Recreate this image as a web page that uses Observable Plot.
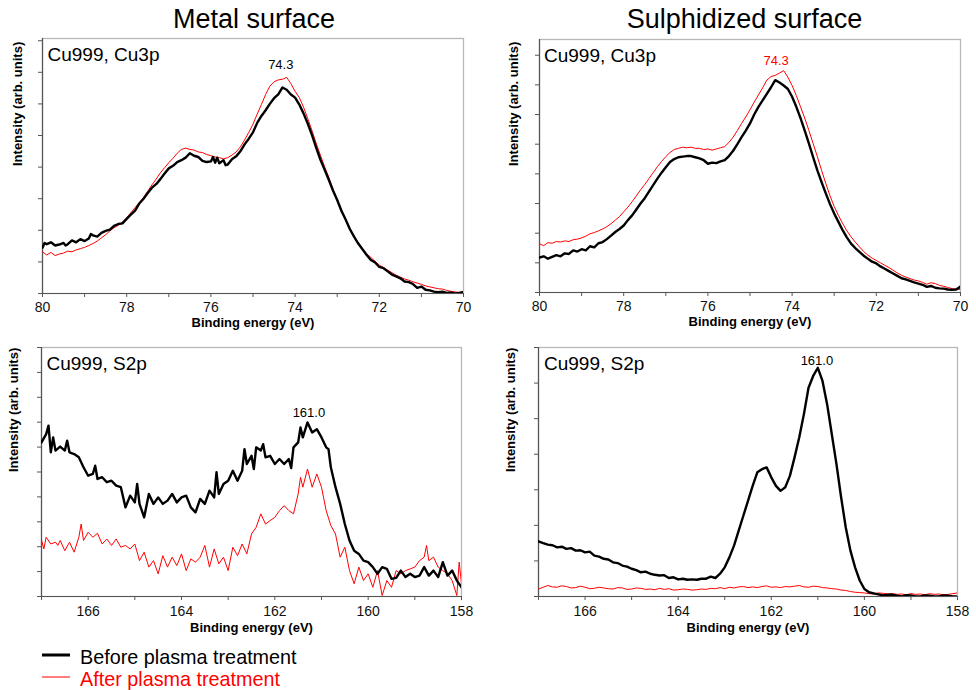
<!DOCTYPE html>
<html><head><meta charset="utf-8">
<script src="https://cdn.jsdelivr.net/npm/d3@7"></script>
<script src="https://cdn.jsdelivr.net/npm/@observablehq/plot@0.6"></script>
<style>
body{margin:0;background:#fff;font-family:"Liberation Sans",Arial,sans-serif}
#root{position:relative;width:976px;height:690px;overflow:hidden}
#root > svg{position:absolute}
</style>
</head><body><div id="root"></div>
<script>
// ---- Data (binding energy eV, intensity in arbitrary tick units) ----
const columnTitles = ["Metal surface", "Sulphidized surface"];
const seriesNames = ["Before plasma treatment", "After plasma treatment"];
const panelLabels = ["Cu999, Cu3p", "Cu999, Cu3p", "Cu999, S2p", "Cu999, S2p"];
const peakLabels = ["74.3", "74.3", "161.0", "161.0"];
const cu3pTicks = [80, 78, 76, 74, 72, 70];
const cu3pMinor = [79, 77, 75, 73, 71];
const s2pTicks = [166, 164, 162, 160, 158];
const s2pMinor = [167, 165, 163, 161, 159];

const cu3pMetalBefore = [[80.0,1.45],[79.95,1.60],[79.9,1.56],[79.8,1.62],[79.7,1.52],[79.6,1.55],[79.5,1.60],[79.45,1.52],[79.4,1.56],[79.3,1.68],[79.2,1.62],[79.1,1.72],[79.0,1.66],[78.9,1.74],[78.85,1.88],[78.8,1.84],[78.7,1.80],[78.6,1.92],[78.5,1.98],[78.4,2.02],[78.3,2.14],[78.2,2.20],[78.1,2.22],[78.0,2.36],[77.9,2.50],[77.8,2.62],[77.7,2.85],[77.6,3.00],[77.5,3.18],[77.4,3.35],[77.3,3.46],[77.2,3.62],[77.1,3.80],[77.0,3.96],[76.9,4.04],[76.8,4.16],[76.7,4.22],[76.6,4.30],[76.5,4.44],[76.4,4.36],[76.3,4.32],[76.2,4.20],[76.1,4.16],[76.0,4.18],[75.95,4.32],[75.9,4.14],[75.85,4.30],[75.8,4.12],[75.7,4.22],[75.65,4.06],[75.6,4.08],[75.5,4.25],[75.4,4.34],[75.3,4.50],[75.2,4.72],[75.1,4.90],[75.0,5.10],[74.9,5.40],[74.8,5.62],[74.7,5.80],[74.6,6.00],[74.5,6.18],[74.4,6.30],[74.3,6.52],[74.2,6.45],[74.1,6.30],[74.0,6.20],[73.9,5.98],[73.8,5.70],[73.7,5.38],[73.6,5.02],[73.5,4.62],[73.4,4.24],[73.3,3.92],[73.2,3.60],[73.1,3.26],[73.0,2.96],[72.9,2.62],[72.8,2.34],[72.7,2.04],[72.6,1.80],[72.5,1.58],[72.4,1.40],[72.3,1.22],[72.2,1.06],[72.1,0.98],[72.0,0.84],[71.9,0.80],[71.8,0.70],[71.7,0.60],[71.6,0.54],[71.5,0.48],[71.4,0.38],[71.3,0.36],[71.2,0.30],[71.1,0.18],[71.0,0.22],[70.9,0.12],[70.8,0.10],[70.7,0.06],[70.6,0.04],[70.5,0.06],[70.4,0.02],[70.3,0.03],[70.2,0.00],[70.1,0.02],[70.0,0.04]];
const cu3pMetalAfter = [[80.0,1.32],[79.9,1.22],[79.8,1.30],[79.7,1.20],[79.6,1.25],[79.5,1.28],[79.4,1.34],[79.3,1.32],[79.2,1.38],[79.1,1.42],[79.0,1.46],[78.9,1.52],[78.8,1.58],[78.7,1.66],[78.6,1.76],[78.5,1.86],[78.4,1.98],[78.3,2.08],[78.2,2.16],[78.1,2.26],[78.0,2.40],[77.9,2.56],[77.8,2.72],[77.7,2.88],[77.6,3.04],[77.5,3.24],[77.4,3.44],[77.3,3.62],[77.2,3.82],[77.1,3.98],[77.0,4.14],[76.9,4.28],[76.8,4.44],[76.7,4.56],[76.6,4.60],[76.5,4.56],[76.4,4.54],[76.3,4.48],[76.2,4.46],[76.1,4.40],[76.0,4.36],[75.9,4.32],[75.8,4.30],[75.7,4.26],[75.6,4.30],[75.5,4.38],[75.4,4.48],[75.3,4.64],[75.2,4.86],[75.1,5.10],[75.0,5.36],[74.9,5.68],[74.8,5.98],[74.7,6.30],[74.6,6.56],[74.5,6.70],[74.4,6.76],[74.3,6.78],[74.2,6.84],[74.1,6.64],[74.0,6.40],[73.9,6.20],[73.8,5.90],[73.7,5.54],[73.6,5.16],[73.5,4.76],[73.4,4.38],[73.3,4.02],[73.2,3.68],[73.1,3.30],[73.0,2.96],[72.9,2.64],[72.8,2.34],[72.7,2.06],[72.6,1.80],[72.5,1.60],[72.4,1.42],[72.3,1.26],[72.2,1.14],[72.1,1.02],[72.0,0.90],[71.9,0.82],[71.8,0.74],[71.7,0.66],[71.6,0.58],[71.5,0.52],[71.4,0.46],[71.3,0.42],[71.2,0.37],[71.1,0.33],[71.0,0.29],[70.9,0.24],[70.8,0.21],[70.7,0.18],[70.6,0.15],[70.5,0.14],[70.4,0.10],[70.3,0.07],[70.2,0.05],[70.1,0.03],[70.0,0.07]];
const cu3pSulphBefore = [[80.0,1.18],[79.9,1.22],[79.8,1.14],[79.7,1.20],[79.6,1.26],[79.5,1.22],[79.4,1.32],[79.3,1.30],[79.2,1.42],[79.1,1.38],[79.0,1.46],[78.9,1.42],[78.8,1.56],[78.7,1.52],[78.6,1.66],[78.5,1.70],[78.4,1.80],[78.3,1.92],[78.2,2.04],[78.1,2.14],[78.0,2.26],[77.9,2.44],[77.8,2.60],[77.7,2.80],[77.6,3.00],[77.5,3.18],[77.4,3.40],[77.3,3.62],[77.2,3.84],[77.1,4.04],[77.0,4.22],[76.9,4.40],[76.8,4.50],[76.7,4.56],[76.6,4.58],[76.5,4.60],[76.4,4.60],[76.3,4.56],[76.2,4.52],[76.1,4.46],[76.0,4.34],[75.9,4.38],[75.8,4.36],[75.7,4.42],[75.6,4.46],[75.5,4.60],[75.4,4.78],[75.3,5.00],[75.2,5.24],[75.1,5.46],[75.0,5.70],[74.9,6.00],[74.8,6.26],[74.7,6.48],[74.6,6.70],[74.5,6.92],[74.4,7.16],[74.3,7.08],[74.2,6.98],[74.1,6.86],[74.0,6.60],[73.9,6.26],[73.8,5.88],[73.7,5.46],[73.6,5.02],[73.5,4.56],[73.4,4.12],[73.3,3.72],[73.2,3.34],[73.1,2.98],[73.0,2.66],[72.9,2.38],[72.8,2.10],[72.7,1.86],[72.6,1.65],[72.5,1.50],[72.4,1.37],[72.3,1.24],[72.2,1.14],[72.1,1.04],[72.0,0.98],[71.9,0.88],[71.8,0.80],[71.7,0.72],[71.6,0.64],[71.5,0.56],[71.4,0.48],[71.3,0.44],[71.2,0.39],[71.1,0.34],[71.0,0.30],[70.9,0.26],[70.8,0.19],[70.7,0.22],[70.6,0.16],[70.5,0.14],[70.4,0.13],[70.3,0.10],[70.2,0.09],[70.1,0.10],[70.0,0.20]];
const cu3pSulphAfter = [[80.0,1.64],[79.9,1.58],[79.8,1.68],[79.7,1.66],[79.6,1.72],[79.5,1.70],[79.4,1.74],[79.3,1.72],[79.2,1.78],[79.1,1.80],[79.0,1.84],[78.9,1.90],[78.8,1.98],[78.7,2.02],[78.6,2.08],[78.5,2.14],[78.4,2.22],[78.3,2.32],[78.2,2.44],[78.1,2.56],[78.0,2.72],[77.9,2.88],[77.8,3.06],[77.7,3.26],[77.6,3.46],[77.5,3.64],[77.4,3.84],[77.3,4.04],[77.2,4.24],[77.1,4.42],[77.0,4.58],[76.9,4.72],[76.8,4.82],[76.7,4.86],[76.6,4.90],[76.5,4.88],[76.4,4.90],[76.3,4.86],[76.2,4.86],[76.1,4.82],[76.0,4.84],[75.9,4.80],[75.8,4.84],[75.7,4.88],[75.6,4.92],[75.5,5.06],[75.4,5.24],[75.3,5.46],[75.2,5.70],[75.1,5.92],[75.0,6.16],[74.9,6.42],[74.8,6.66],[74.7,6.90],[74.6,7.16],[74.5,7.28],[74.4,7.32],[74.3,7.40],[74.2,7.48],[74.1,7.26],[74.0,6.98],[73.9,6.64],[73.8,6.26],[73.7,5.88],[73.6,5.46],[73.5,5.02],[73.4,4.58],[73.3,4.12],[73.2,3.68],[73.1,3.26],[73.0,2.90],[72.9,2.60],[72.8,2.33],[72.7,2.08],[72.6,1.88],[72.5,1.70],[72.4,1.54],[72.3,1.38],[72.2,1.26],[72.1,1.16],[72.0,1.08],[71.9,1.00],[71.8,0.92],[71.7,0.84],[71.6,0.75],[71.5,0.66],[71.4,0.58],[71.3,0.52],[71.2,0.47],[71.1,0.42],[71.0,0.39],[70.9,0.34],[70.8,0.28],[70.7,0.33],[70.6,0.30],[70.5,0.24],[70.4,0.21],[70.3,0.17],[70.2,0.13],[70.1,0.12],[70.0,0.10]];
const s2pMetalBefore = [[167.0,6.19],[166.9,6.52],[166.85,6.86],[166.8,5.79],[166.75,6.39],[166.7,5.86],[166.6,6.02],[166.5,5.86],[166.45,6.26],[166.4,5.79],[166.3,5.72],[166.2,5.59],[166.1,5.19],[166.0,4.85],[165.9,4.92],[165.85,5.25],[165.8,4.72],[165.7,4.79],[165.6,4.59],[165.5,4.65],[165.4,4.45],[165.3,4.39],[165.2,3.58],[165.1,4.05],[165.0,3.78],[164.95,4.52],[164.9,3.72],[164.8,3.18],[164.7,4.12],[164.6,3.72],[164.5,3.98],[164.4,3.72],[164.3,3.85],[164.2,4.12],[164.1,3.78],[164.0,3.98],[163.9,4.05],[163.8,3.58],[163.7,3.38],[163.6,3.92],[163.5,3.72],[163.4,4.25],[163.3,3.98],[163.25,4.99],[163.2,4.12],[163.1,4.52],[163.0,4.65],[162.9,5.05],[162.8,4.65],[162.7,5.05],[162.65,5.92],[162.6,5.32],[162.5,5.65],[162.45,5.12],[162.4,5.99],[162.3,5.86],[162.25,6.12],[162.2,5.59],[162.1,5.65],[162.0,5.32],[161.9,5.52],[161.8,5.32],[161.7,5.52],[161.65,5.16],[161.6,5.99],[161.5,6.19],[161.45,6.79],[161.4,6.39],[161.3,6.99],[161.2,6.59],[161.1,6.72],[161.0,6.39],[160.9,5.99],[160.85,5.92],[160.8,5.19],[160.7,4.39],[160.6,3.72],[160.5,2.91],[160.4,2.25],[160.3,1.84],[160.2,1.71],[160.1,1.44],[160.0,1.38],[159.9,1.18],[159.8,0.91],[159.7,1.18],[159.6,1.11],[159.5,0.71],[159.4,0.75],[159.3,1.04],[159.2,0.78],[159.1,0.91],[159.0,0.78],[158.9,0.84],[158.8,1.18],[158.7,0.84],[158.6,1.04],[158.5,0.78],[158.4,1.38],[158.3,0.84],[158.2,1.04],[158.1,0.64],[158.0,0.37]];
const s2pMetalAfter = [[167.0,2.27],[166.95,1.91],[166.9,2.38],[166.8,2.11],[166.7,2.18],[166.65,2.05],[166.6,2.25],[166.5,1.84],[166.4,2.18],[166.3,1.78],[166.2,2.38],[166.15,2.91],[166.1,2.25],[166.0,2.58],[165.9,2.38],[165.8,2.54],[165.7,2.11],[165.6,2.31],[165.5,2.05],[165.4,2.31],[165.3,1.98],[165.2,2.05],[165.1,1.91],[165.0,2.11],[164.9,1.44],[164.8,1.78],[164.7,1.18],[164.6,1.44],[164.5,0.91],[164.4,1.64],[164.3,1.18],[164.2,1.58],[164.1,1.24],[164.0,1.71],[163.9,1.04],[163.8,1.51],[163.7,1.38],[163.6,1.58],[163.5,2.05],[163.4,1.18],[163.3,1.91],[163.2,1.31],[163.1,1.58],[163.0,1.04],[162.9,1.98],[162.8,1.64],[162.7,2.11],[162.6,1.71],[162.5,2.51],[162.4,2.78],[162.3,3.32],[162.2,2.91],[162.1,3.05],[162.0,3.18],[161.9,3.45],[161.8,3.65],[161.7,3.45],[161.6,3.32],[161.5,4.12],[161.45,4.79],[161.4,4.39],[161.3,5.12],[161.2,4.39],[161.1,4.92],[161.0,4.39],[160.9,3.45],[160.8,2.85],[160.7,2.51],[160.6,1.58],[160.5,1.98],[160.4,1.04],[160.3,0.51],[160.2,1.18],[160.1,0.64],[160.0,0.91],[159.9,0.37],[159.8,1.04],[159.7,0.04],[159.6,0.64],[159.5,0.37],[159.4,1.04],[159.3,0.91],[159.2,1.04],[159.1,1.11],[159.0,1.18],[158.9,1.44],[158.8,1.58],[158.75,2.05],[158.7,1.44],[158.6,1.58],[158.5,1.18],[158.4,1.04],[158.3,0.91],[158.2,0.64],[158.1,0.04],[158.05,1.38],[158.0,0.51]];
const s2pSulphBefore = [[167.0,1.55],[166.9,1.50],[166.8,1.46],[166.7,1.44],[166.6,1.38],[166.5,1.40],[166.4,1.34],[166.3,1.36],[166.2,1.29],[166.1,1.30],[166.0,1.24],[165.9,1.26],[165.8,1.15],[165.7,1.12],[165.6,1.06],[165.5,1.04],[165.4,0.96],[165.3,0.94],[165.2,0.87],[165.1,0.84],[165.0,0.78],[164.9,0.74],[164.8,0.68],[164.7,0.70],[164.6,0.64],[164.5,0.61],[164.4,0.59],[164.3,0.60],[164.2,0.52],[164.1,0.54],[164.0,0.48],[163.9,0.50],[163.8,0.47],[163.7,0.48],[163.6,0.47],[163.5,0.50],[163.4,0.50],[163.3,0.56],[163.2,0.52],[163.1,0.64],[163.0,0.82],[162.9,1.10],[162.8,1.43],[162.7,1.85],[162.6,2.27],[162.5,2.69],[162.4,3.11],[162.3,3.49],[162.2,3.58],[162.1,3.63],[162.0,3.35],[161.9,3.11],[161.8,2.97],[161.7,3.07],[161.6,3.39],[161.5,3.91],[161.4,4.47],[161.3,5.12],[161.2,5.87],[161.1,6.20],[161.0,6.43],[160.9,6.06],[160.8,5.40],[160.7,4.56],[160.6,3.72],[160.5,2.79],[160.4,1.94],[160.3,1.29],[160.2,0.82],[160.1,0.45],[160.0,0.21],[159.9,0.12],[159.8,0.09],[159.7,0.06],[159.6,0.03],[159.5,0.05],[159.4,0.05],[159.3,0.02],[159.2,0.00],[159.1,0.04],[159.0,0.03],[158.9,0.00],[158.8,0.00],[158.7,0.03],[158.6,0.02],[158.5,0.00],[158.4,0.00],[158.3,0.03],[158.2,0.02],[158.1,0.00],[158.0,0.00]];
const s2pSulphAfter = [[167.0,0.21],[166.9,0.26],[166.8,0.31],[166.7,0.27],[166.6,0.26],[166.5,0.30],[166.4,0.28],[166.3,0.24],[166.2,0.25],[166.1,0.29],[166.0,0.26],[165.9,0.22],[165.8,0.23],[165.7,0.26],[165.6,0.24],[165.5,0.22],[165.4,0.21],[165.3,0.25],[165.2,0.24],[165.1,0.20],[165.0,0.21],[164.9,0.24],[164.8,0.23],[164.7,0.20],[164.6,0.21],[164.5,0.19],[164.4,0.23],[164.3,0.20],[164.2,0.22],[164.1,0.18],[164.0,0.19],[163.9,0.21],[163.8,0.20],[163.7,0.18],[163.6,0.19],[163.5,0.21],[163.4,0.20],[163.3,0.23],[163.2,0.22],[163.1,0.25],[163.0,0.22],[162.9,0.26],[162.8,0.24],[162.7,0.27],[162.6,0.28],[162.5,0.25],[162.4,0.27],[162.3,0.25],[162.2,0.28],[162.1,0.30],[162.0,0.26],[161.9,0.27],[161.8,0.25],[161.7,0.28],[161.6,0.27],[161.5,0.29],[161.4,0.31],[161.3,0.27],[161.2,0.26],[161.1,0.29],[161.0,0.28],[160.9,0.25],[160.8,0.24],[160.7,0.22],[160.6,0.21],[160.5,0.18],[160.4,0.17],[160.3,0.14],[160.2,0.12],[160.1,0.11],[160.0,0.10],[159.9,0.08],[159.8,0.07],[159.7,0.10],[159.6,0.09],[159.5,0.07],[159.4,0.08],[159.3,0.06],[159.2,0.07],[159.1,0.05],[159.0,0.08],[158.9,0.06],[158.8,0.07],[158.7,0.05],[158.6,0.08],[158.5,0.06],[158.4,0.07],[158.3,0.05],[158.2,0.06],[158.1,0.08],[158.0,0.10]];
const peakPositions = [[74.34, 7.09], [74.38, 7.68], [161.27, 7.19], [161.02, 6.52]];

// ---- Layout ----
const FONT = "'Liberation Sans', Arial, sans-serif";
const RED = "#ff0000";
const root = document.getElementById("root");

function panel(o) {
  const E = d => d[0], I = d => d[1];
  const chart = Plot.plot({
    width: o.width, height: o.height,
    marginLeft: o.mL, marginRight: o.mR, marginTop: o.mT, marginBottom: o.mB,
    style: {fontFamily: FONT, fontSize: "14px", background: "transparent", color: "#000", overflow: "visible"},
    x: {domain: o.xDomain},
    y: {domain: [0, o.yMax]},
    marks: [
      Plot.frame({stroke: "#b8b8b8", strokeWidth: 1.3}),
      Plot.axisX(o.xMajor, {tickSize: 4, tickPadding: o.tickPad, tickFormat: d => String(d), label: null, stroke: "#555", fill: "#111", fontSize: 14, fontFamily: FONT}),
      Plot.axisX(o.xMinor, {tickSize: 4, tickFormat: () => "", label: null, stroke: "#555"}),
      Plot.axisY(d3.range(0, o.yTickCount + 1), {tickSize: 4, tickFormat: () => "", label: null, stroke: "#555"}),
      Plot.ruleX([o.xDomain[0]], {stroke: "#555", strokeWidth: 1.2}),
      Plot.ruleY([0], {stroke: "#555", strokeWidth: 1.2}),
      Plot.line(o.after, {x: E, y: I, stroke: RED, strokeWidth: 1, clip: true}),
      Plot.line(o.before, {x: E, y: I, stroke: "#000", strokeWidth: 2.4, strokeLinejoin: "round", clip: true}),
      Plot.text([o.label], {frameAnchor: "top-left", dx: o.labelDx, dy: o.labelDy, lineAnchor: "bottom", textAnchor: "start", fontSize: 19, fontFamily: FONT, fill: "#000"}),
      Plot.text([o.peak], {x: d => d[0], y: d => d[1], text: () => o.peakText, lineAnchor: "bottom", fontSize: 13, fontFamily: FONT, fill: o.peakColor}),
      Plot.text(["Binding energy (eV)"], {frameAnchor: "bottom", dy: o.xLabelDy, fontWeight: "bold", fontSize: 13, fontFamily: FONT, fill: "#000"}),
      Plot.text(["Intensity (arb. units)"], {frameAnchor: "left", dx: o.yLabelDx, rotate: -90, fontWeight: "bold", fontSize: 13, fontFamily: FONT, fill: "#000"})
    ]
  });
  chart.style.left = o.left + "px";
  chart.style.top = o.top + "px";
  root.appendChild(chart);
}

panel({left: 0, top: 0, width: 488, height: 340, mL: 42, mR: 25, mT: 38, mB: 47,
  xDomain: [80, 70], xMajor: cu3pTicks, xMinor: cu3pMinor, yMax: 8.07, yTickCount: 8, tickPad: 5,
  before: cu3pMetalBefore, after: cu3pMetalAfter, label: panelLabels[0], labelDx: 5, labelDy: 22,
  peak: peakPositions[0], peakText: peakLabels[0], peakColor: "#000", xLabelDy: 33, yLabelDx: -25});
panel({left: 488, top: 0, width: 488, height: 340, mL: 51, mR: 16, mT: 39, mB: 48,
  xDomain: [80, 70], xMajor: cu3pTicks, xMinor: cu3pMinor, yMax: 8.53, yTickCount: 8, tickPad: 5,
  before: cu3pSulphBefore, after: cu3pSulphAfter, label: panelLabels[1], labelDx: 4.5, labelDy: 22,
  peak: peakPositions[1], peakText: peakLabels[1], peakColor: RED, xLabelDy: 33, yLabelDx: -26});
panel({left: 0, top: 340, width: 488, height: 305, mL: 41, mR: 27, mT: 7, mB: 49,
  xDomain: [167, 158], xMajor: s2pTicks, xMinor: s2pMinor, yMax: 10, yTickCount: 10, tickPad: 6,
  before: s2pMetalBefore, after: s2pMetalAfter, label: panelLabels[2], labelDx: 5, labelDy: 22.5,
  peak: peakPositions[2], peakText: peakLabels[2], peakColor: "#000", xLabelDy: 35, yLabelDx: -28});
panel({left: 488, top: 340, width: 488, height: 305, mL: 50, mR: 19, mT: 7, mB: 49,
  xDomain: [167, 158], xMajor: s2pTicks, xMinor: s2pMinor, yMax: 7, yTickCount: 7, tickPad: 6,
  before: s2pSulphBefore, after: s2pSulphAfter, label: panelLabels[3], labelDx: 5.5, labelDy: 22.5,
  peak: peakPositions[3], peakText: peakLabels[3], peakColor: "#000", xLabelDy: 35, yLabelDx: -28});

// ---- Column titles and legend ----
const over = d3.create("svg").attr("width", 976).attr("height", 690)
  .style("left", "0px").style("top", "0px").style("pointer-events", "none")
  .attr("font-family", FONT);
over.selectAll("text.title").data(columnTitles).join("text")
  .attr("class", "title").attr("x", (d, i) => i ? 744.5 : 254).attr("y", 28.3)
  .attr("text-anchor", "middle").attr("font-size", 27).attr("fill", "#000").text(d => d);
const legendY = [655, 677];
const legendColors = ["#000", RED];
const legendWidths = [3, 1];
const lg = over.selectAll("g.leg").data(seriesNames).join("g").attr("class", "leg");
lg.append("line").attr("x1", 42).attr("x2", 70).attr("y1", (d, i) => legendY[i]).attr("y2", (d, i) => legendY[i])
  .attr("stroke", (d, i) => legendColors[i]).attr("stroke-width", (d, i) => legendWidths[i]);
lg.append("text").attr("x", 80).attr("y", (d, i) => legendY[i] + 8.5).attr("font-size", 19.8)
  .attr("fill", (d, i) => legendColors[i]).text(d => d);
root.appendChild(over.node());
</script>
</body></html>
